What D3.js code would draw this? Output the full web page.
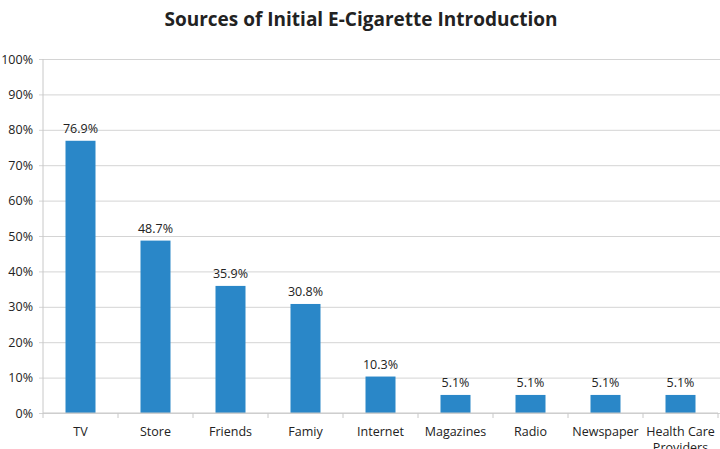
<!DOCTYPE html>
<html lang="en">
<head>
<meta charset="UTF-8">
<title>Sources of Initial E-Cigarette Introduction</title>
<script src="https://cdn.jsdelivr.net/npm/d3@7"></script>
<style>
    body{ margin:0; background:#fff; }
    text{ font-family: "Open Sans", "Liberation Sans", sans-serif; fill:#222; }
</style>
</head>
<body>
<svg id="chart" width="720" height="449"></svg>
<script>
    // data
    let sources = ["TV", "Store", "Friends", "Famiy", "Internet", "Magazines", "Radio", "Newspaper", "Health Care Providers"];
    let percents = [76.9, 48.7, 35.9, 30.8, 10.3, 5.1, 5.1, 5.1, 5.1];
    let yTicks = [0, 10, 20, 30, 40, 50, 60, 70, 80, 90, 100];

    let svg = d3.select("#chart");
    let margin = {left: 43, right: 2, top: 59, bottom: 36};
    let W = 720, H = 449;

    let x = d3.scaleBand()
        .domain(sources)
        .range([margin.left, W - margin.right])
        .paddingInner(0.6)
        .paddingOuter(0.3);
    let y = d3.scaleLinear()
        .domain([0, 100])
        .range([H - margin.bottom, margin.top]);

    // title
    svg.append("text")
        .attr("x", 361).attr("y", 26)
        .attr("text-anchor", "middle")
        .style("font-size", "19px").style("font-weight", "bold")
        .text("Sources of Initial E-Cigarette Introduction");

    // gridlines + y labels
    let yAxis = d3.axisLeft(y).tickValues(yTicks)
        .tickFormat(d => d + "%")
        .tickSize(-(W - margin.right - margin.left) - 4)
        .tickPadding(6);
    let gy = svg.append("g")
        .attr("transform", "translate(" + (margin.left) + ",0)")
        .call(yAxis);
    gy.select(".domain").remove();
    gy.selectAll(".tick line").attr("stroke", "#d4d4d4").attr("x1", -4);
    gy.selectAll(".tick text").style("font-size", "12.5px").attr("fill", "#222").attr("x", -10);

    // y axis line
    svg.append("line")
        .attr("x1", margin.left).attr("x2", margin.left)
        .attr("y1", y(100)).attr("y2", y(0))
        .attr("stroke", "#c8c8c8");

    // bars
    svg.selectAll("rect.bar")
        .data(percents)
        .join("rect")
        .attr("class", "bar")
        .attr("x", (d, i) => x(sources[i]))
        .attr("width", x.bandwidth())
        .attr("y", d => y(d))
        .attr("height", d => y(0) - y(d))
        .attr("fill", "#2a87c8");

    // value labels
    svg.selectAll("text.val")
        .data(percents)
        .join("text")
        .attr("class", "val")
        .attr("x", (d, i) => x(sources[i]) + x.bandwidth() / 2)
        .attr("y", d => y(d) - 8)
        .attr("text-anchor", "middle")
        .style("font-size", "12.5px")
        .text(d => d + "%");

    // x axis
    let step = x.step();
    let gx = svg.append("g")
        .attr("transform", "translate(0," + y(0) + ")");
    gx.append("line")
        .attr("x1", margin.left).attr("x2", W - margin.right)
        .attr("stroke", "#c8c8c8");
    let bounds = d3.range(sources.length + 1).map(i => margin.left + i * step);
    gx.selectAll("line.tk")
        .data(bounds)
        .join("line")
        .attr("class", "tk")
        .attr("x1", d => d).attr("x2", d => d)
        .attr("y1", 0).attr("y2", 5)
        .attr("stroke", "#c8c8c8");

    // category labels (wrap long one, second line runs off the bottom as in the original)
    sources.forEach(function (s, i) {
        let cx = x(s) + x.bandwidth() / 2;
        let words = s === "Health Care Providers" ? ["Health Care", "Providers"] : [s];
        let t = gx.append("text")
            .attr("text-anchor", "middle")
            .style("font-size", "12.5px");
        words.forEach(function (w, j) {
            t.append("tspan").attr("x", cx).attr("y", 23 + j * 16).text(w);
        });
    });
</script>
</body>
</html>
